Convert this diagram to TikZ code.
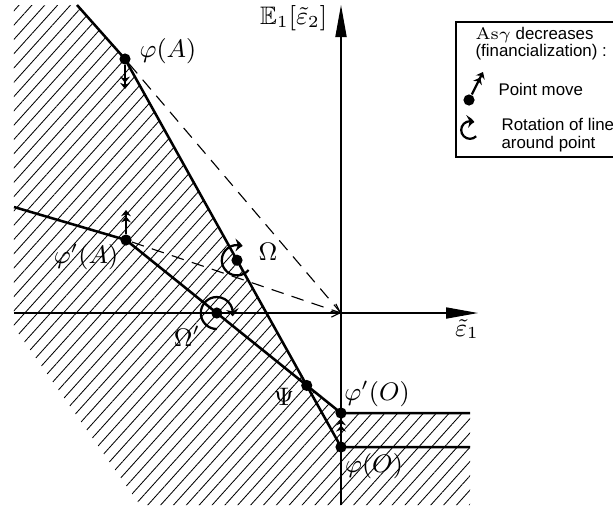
\documentclass[tikz,border=0pt]{standalone}
\usepackage{amsmath,amssymb}
\usepackage{fontspec}
\setsansfont{Liberation Sans}
\usetikzlibrary{arrows.meta,bending,positioning,patterns.meta}

\begin{document}
\begin{tikzpicture}[
    x=0.25cm, y=0.25cm,
    every node/.style={font=\small},
    dot/.style={circle, fill, inner sep=0pt, minimum size=1.4mm},
    axis/.style={-{Triangle[length=4mm,width=1.4mm]}, line width=0.4pt},
    frontier/.style={line width=0.9pt},
    ray/.style={dash pattern=on 4.5pt off 3pt, line width=0.4pt,
      -{Straight Barb[length=2.5pt,width=5pt]}},
    movearr/.style={line width=0.8pt,
      -{Stealth[length=2.2pt,width=3.5pt]Stealth[length=2.2pt,width=3.5pt]}},
    rotarr/.style={line width=0.8pt, -{Stealth[length=2.6pt,width=4.5pt,bend]}},
    legtext/.style={font=\sffamily\fontsize{6}{6.2}\selectfont,
      anchor=west, align=left, inner sep=0pt},
    hatch/.style={pattern={Lines[angle=48,distance=3.4pt,line width=0.3pt]}}
  ]
  \useasboundingbox (-17.05,15.65) rectangle (13.6,-9.95);

  % ===== Points of the two frontiers =====
  \coordinate (top)   at (-13.2,15.4);
  \coordinate (left)  at (-16.35,5.3);
  \coordinate (orig)  at (0,0);
  \node[dot] (phiA)  at (-10.8,12.7) {};
  \node[dot] (phipA) at (-10.75,3.65) {};
  \node[dot] (phiO)  at (0,-6.7) {};
  \node[dot] (phipO) at (0,-5) {};
  \node[dot] (psi)   at (-1.714,-3.621) {};
  \node[dot] (om)    at (-5.2,2.64) {};
  \node[dot] (omp)   at (-6.21,0) {};
  \coordinate (endO)  at (6.45,-6.7);
  \coordinate (endpO) at (6.45,-5);

  % ===== Hatched region =====
  \fill[hatch] (-16.35,15.4) -- (top) -- (phiA.center) -- (psi.center)
    -- (phipO.center) -- (endpO) -- (6.45,-9.6) -- (-10.05,-9.6)
    -- (-16.35,-0.7) -- cycle;

  % ===== Axes =====
  \draw[axis] (-16.35,0) -- (6.85,0);
  \draw[axis] (0,-9.6) -- (0,15.4);
  \node (e1) at (6.3,-0.8) {$\tilde{\varepsilon}_1$};
  \node[anchor=east] (e2) at (-0.2,14.75) {$\mathbb{E}_1[\tilde{\varepsilon}_2]$};

  % ===== Frontiers and rays =====
  \draw[frontier] (top) -- (phiA.center) -- (phiO.center) -- (endO);
  \draw[frontier] (left) -- (phipA.center) -- (phipO.center) -- (endpO);
  \draw[ray] (phiA) -- (orig);
  \draw[ray] (phipA) -- (orig);

  % ===== Moves and rotations =====
  \coordinate (phiAto)  at (-10.8,11.2);
  \coordinate (phipAto) at (-10.75,5.15);
  \draw[movearr] (phiA) -- (phiAto);
  \draw[movearr] (phipA) -- (phipAto);
  \draw[movearr] (phiO) -- (phipO);
  \draw[rotarr] ([shift={(-40:0.19cm)}]om.center)
    arc[start angle=-40, end angle=-292, radius=0.19cm];
  \draw[rotarr] ([shift={(-90:0.2cm)}]omp.center)
    arc[start angle=-90, end angle=-372, radius=0.2cm];

  % ===== Labels =====
  \node (lphiA)  at (-8.65,13.1) {$\varphi(A)$};
  \node (lphipA) at (-12.75,2.8) {$\varphi'(A)$};
  \node (lom)    at (-3.65,3.05) {$\Omega$};
  \node (lomp)   at (-7.7,-1.15) {$\Omega'$};
  \node (lpsi)   at (-2.85,-4.2) {$\Psi$};
  \node (lphipO) at (1.8,-4.05) {$\varphi'(O)$};
  \node (lphiO)  at (1.65,-7.65) {$\varphi(O)$};

  % ===== Legend =====
  \draw[line width=0.5pt] (5.75,14.55) rectangle (13.9,7.8);
  \node[legtext] (leg1) at (6.7,13.9) {{\rmfamily As}$\gamma$ decreases};
  \node[legtext] (leg2) at (6.7,13.05) {(financialization) :};
  \node[dot] (legdot) at (6.4,10.65) {};
  \coordinate (legto) at (7.1,12.05);
  \draw[movearr] (legdot) -- (legto);
  \node[legtext] (leg3) at (7.85,11.2) {Point move};
  \coordinate (legrot) at (6.45,9.15);
  \draw[rotarr] ([shift={(-45:0.11cm)}]legrot)
    arc[start angle=-45, end angle=-300, radius=0.11cm];
  \node[legtext] (leg4) at (8.0,8.9) {Rotation of line\\around point};
\end{tikzpicture}
\end{document}
